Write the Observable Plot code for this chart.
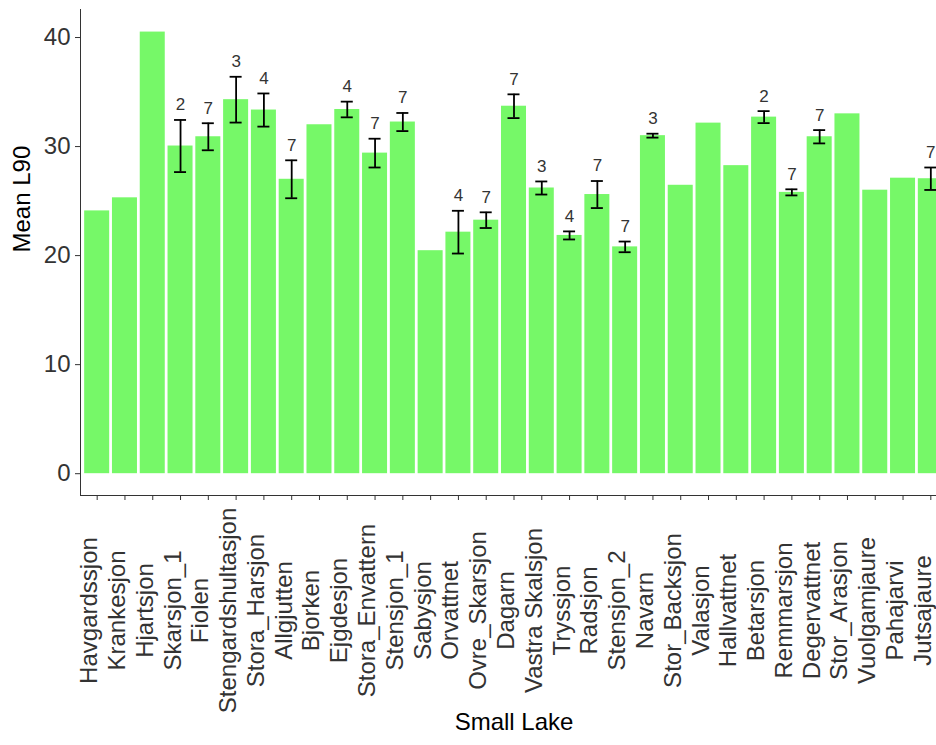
<!DOCTYPE html>
<html><head><meta charset="utf-8">
<script src="https://cdn.jsdelivr.net/npm/d3@7"></script>
<script src="https://cdn.jsdelivr.net/npm/@observablehq/plot@0.6"></script>
<style>html,body{margin:0;padding:0;overflow:hidden;background:#fff}</style>
</head><body><div id="chart"></div>
<script>
const lakes = ["Havgardssjon","Krankesjon","Hjartsjon","Skarsjon_1","Fiolen","Stengardshultasjon","Stora_Harsjon","Allgjutten","Bjorken","Ejgdesjon","Stora_Envattern","Stensjon_1","Sabysjon","Orvattnet","Ovre_Skarsjon","Dagarn","Vastra Skalsjon","Tryssjon","Radsjon","Stensjon_2","Navarn","Stor_Backsjon","Valasjon","Hallvattnet","Betarsjon","Remmarsjon","Degervattnet","Stor_Arasjon","Vuolgamjaure","Pahajarvi","Jutsajaure"];
const meanL90 = [24.1,25.3,40.5,30.05,30.9,34.3,33.35,27.0,32.0,33.4,29.4,32.25,20.45,22.15,23.25,33.7,26.2,21.85,25.6,20.8,31.0,26.45,32.15,28.25,32.7,25.8,30.9,33.0,26.0,27.1,27.05];
const seL90 = [null,null,null,2.39,1.24,2.1,1.52,1.74,null,0.72,1.32,0.83,null,1.96,0.72,1.09,0.6,0.37,1.24,0.49,0.18,null,null,null,0.55,0.28,0.61,null,null,null,1.03];
const nObs = [null,null,null,2,7,3,4,7,null,4,7,7,null,4,7,7,3,4,7,7,3,null,null,null,2,7,7,null,null,null,7];
const yTicks = [0,10,20,30,40];
const yTitle = "Mean L90";
const xTitle = "Small Lake";

const rows = lakes.map((lake, i) => ({lake, mean: meanL90[i], se: seL90[i], n: nObs[i]}));
const withErr = rows.filter(d => d.se != null);
const errStyle = {stroke: "#000", strokeWidth: 1.8};

const plot = Plot.plot({
  width: 960, height: 745,
  marginLeft: 80, marginRight: 13, marginTop: 9, marginBottom: 250,
  style: {fontFamily: "'Liberation Sans', Arial, sans-serif", fontSize: "24px", color: "#333", background: "#fff", maxWidth: "none", overflow: "visible"},
  x: {domain: lakes, paddingInner: 0.1, paddingOuter: 0.15, round: false, tickSize: 5, tickFormat: () => "", line: true, label: null},
  y: {domain: [-2, 42.57], ticks: yTicks, tickSize: 5, tickPadding: 5, line: true, label: null},
  marks: [
    Plot.barY(rows, {x: "lake", y: "mean", fill: "#76f868"}),
    Plot.ruleX(withErr, {x: "lake", y1: d => d.mean - d.se, y2: d => d.mean + d.se, ...errStyle}),
    Plot.tickY(withErr, {x: "lake", y: d => d.mean + d.se, insetLeft: 6.5, insetRight: 6.5, ...errStyle}),
    Plot.tickY(withErr, {x: "lake", y: d => d.mean - d.se, insetLeft: 6.5, insetRight: 6.5, ...errStyle}),
    Plot.text(withErr, {x: "lake", y: d => d.mean + d.se, text: d => String(d.n), dy: -15, fontSize: 17, fill: "#333"}),
    Plot.text(lakes, {x: d => d, frameAnchor: "bottom", rotate: -90, dy: 115, fontSize: 24, fill: "#333"}),
    Plot.text([yTitle], {frameAnchor: "left", rotate: -90, dx: -58, fontSize: 24, fill: "#000"}),
    Plot.text([xTitle], {frameAnchor: "bottom", dy: 234, fontSize: 24, fill: "#000"})
  ]
});
document.getElementById("chart").appendChild(plot);
</script>
</body></html>
